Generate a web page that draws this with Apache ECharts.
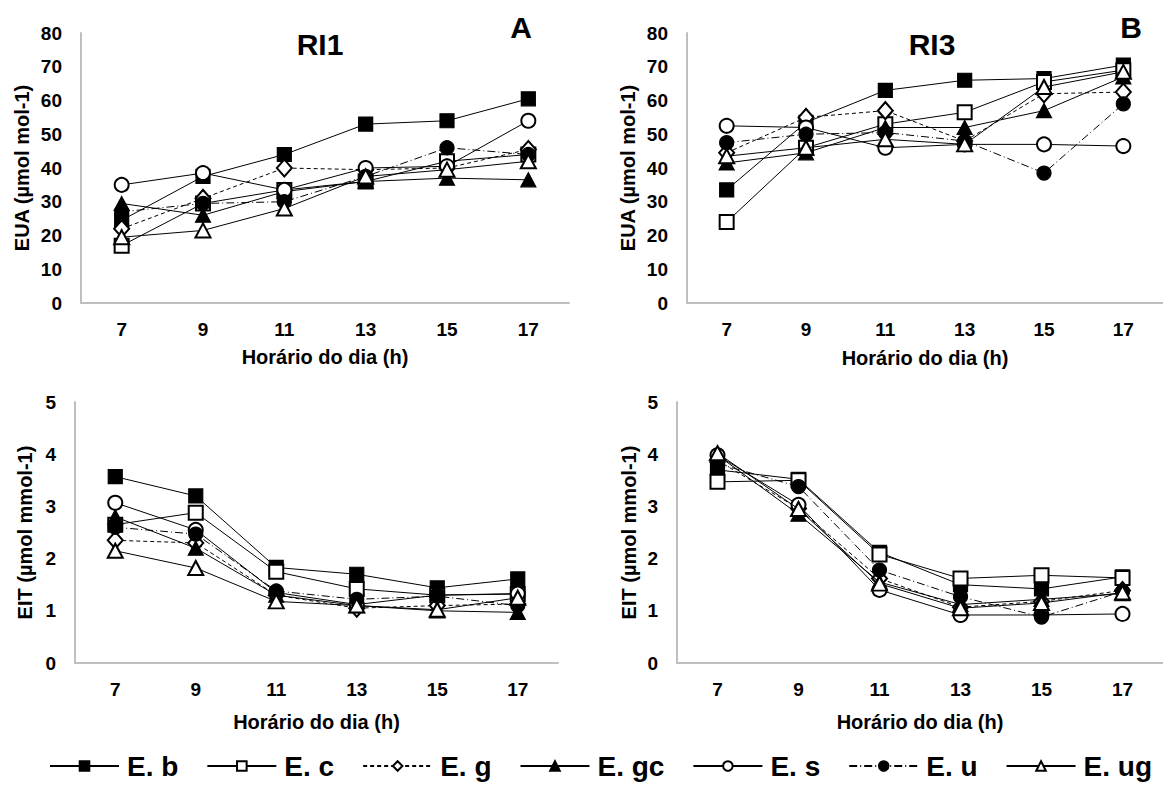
<!DOCTYPE html>
<html><head><meta charset="utf-8">
<script src="https://cdn.jsdelivr.net/npm/echarts@6/dist/echarts.min.js"></script>
<style>html,body{margin:0;padding:0;background:#fff}#c{width:1163px;height:785px}</style>
</head><body><div id="c"></div>
<script>
// ---- data ----
const hours = ['7', '9', '11', '13', '15', '17'];
const species = ['E. b', 'E. c', 'E. g', 'E. gc', 'E. s', 'E. u', 'E. ug'];
const panelTitles = ['RI1', 'RI3'];
const panelLetters = ['A', 'B'];
const euaTitle = 'EUA (µmol mol-1)';
const eitTitle = 'EIT (µmol mmol-1)';
const xTitle = 'Horário do dia (h)';

// rows follow species order
const euaRI1 = [
  [24.5, 37.5, 44, 53, 54, 60.5],
  [17, 29.5, 33.5, 36, 42, 44],
  [22, 31, 40, 39.5, 40, 45.5],
  [29.5, 26, 33, 36, 37, 36.5],
  [35, 38.5, 33.5, 40, 40.5, 54],
  [27, 29.5, 30, 37.5, 46, 44],
  [19.5, 21.5, 28, 37.5, 39.5, 42]
];
const euaRI3 = [
  [33.5, 53.5, 63, 66, 66.5, 70.5],
  [24, 46, 53, 56.5, 65.5, 69],
  [44.5, 55, 57, 48, 62, 62.5],
  [41.5, 44.5, 52, 52, 57, 67],
  [52.5, 52, 46, 47, 47, 46.5],
  [47.5, 50, 50.5, 48, 38.5, 59],
  [43.5, 46, 48.5, 47, 64, 68.5]
];
const eitRI1 = [
  [3.57, 3.2, 1.83, 1.7, 1.44, 1.61],
  [2.65, 2.88, 1.75, 1.42, 1.3, 1.32],
  [2.35, 2.3, 1.3, 1.05, 1.1, 1.13],
  [2.8, 2.2, 1.3, 1.1, 1.0, 0.97],
  [3.07, 2.55, 1.35, 1.12, 1.3, 1.33],
  [2.6, 2.47, 1.38, 1.22, 1.28, 1.1],
  [2.15, 1.82, 1.18, 1.1, 1.02, 1.25]
];
const eitRI3 = [
  [3.7, 3.52, 2.12, 1.5, 1.42, 1.65],
  [3.47, 3.5, 2.08, 1.62, 1.68, 1.63],
  [3.88, 2.96, 1.62, 1.07, 1.18, 1.39],
  [3.98, 2.85, 1.55, 1.12, 1.22, 1.33],
  [3.98, 3.03, 1.4, 0.92, 0.92, 0.94],
  [3.82, 3.38, 1.78, 1.27, 0.88, 1.37],
  [4.02, 2.95, 1.52, 1.05, 1.15, 1.35]
];

// ---- styles ----
const FONT = "'Liberation Sans', Arial, sans-serif";
const symbols = ['rect', 'emptyRect', 'emptyDiamond', 'triangle', 'emptyCircle', 'circle', 'emptyTriangle'];
const symbolSizes = [14, 14, [15, 17], [15, 14], 14, 14, [15, 14]];
const lineTypes = ['solid', 'solid', [4, 3], 'solid', 'solid', [8, 3, 1, 3], 'solid'];

const panels = [
  { data: euaRI1, grid: { left: 81, top: 33, width: 488, height: 270 }, max: 80, interval: 10, yName: euaTitle, yGap: 49, xGap: 44 },
  { data: euaRI3, grid: { left: 687, top: 33, width: 481, height: 270 }, max: 80, interval: 10, yName: euaTitle, yGap: 49, xGap: 45 },
  { data: eitRI1, grid: { left: 75, top: 402, width: 483, height: 261 }, max: 5, interval: 1, yName: eitTitle, yGap: 40, xGap: 49 },
  { data: eitRI3, grid: { left: 677, top: 402, width: 499, height: 261 }, max: 5, interval: 1, yName: eitTitle, yGap: 38, xGap: 49 }
];

const axisLine = { show: true, lineStyle: { color: '#bfbfbf', width: 2 } };
const tickFont = { fontFamily: FONT, fontSize: 19, fontWeight: 'bold', color: '#000' };
const nameFont = { fontFamily: FONT, fontSize: 20, fontWeight: 'bold', color: '#000' };

const grid = [], xAxis = [], yAxis = [], series = [];
panels.forEach((p, i) => {
  grid.push(Object.assign({ containLabel: false }, p.grid));
  xAxis.push({
    type: 'category', gridIndex: i, data: hours, boundaryGap: true,
    axisLine: axisLine, axisTick: { show: false },
    axisLabel: Object.assign({ margin: 17, interval: 0 }, tickFont),
    splitLine: { show: false },
    name: xTitle, nameLocation: 'middle', nameGap: p.xGap, nameTextStyle: nameFont
  });
  yAxis.push({
    type: 'value', gridIndex: i, min: 0, max: p.max, interval: p.interval,
    axisLine: axisLine, axisTick: { show: false },
    axisLabel: Object.assign({ margin: 19 }, tickFont),
    splitLine: { show: false },
    name: p.yName, nameLocation: 'middle', nameRotate: 90, nameGap: p.yGap, nameTextStyle: nameFont
  });
  species.forEach((sp, s) => {
    series.push({
      name: sp, type: 'line', xAxisIndex: i, yAxisIndex: i,
      data: p.data[s],
      symbol: symbols[s], symbolSize: symbolSizes[s],
      lineStyle: { color: '#000', width: 1, type: lineTypes[s] },
      itemStyle: { color: '#000', borderColor: '#000', borderWidth: 1.2 },
      emphasis: { disabled: true },
      z: 2 + s
    });
  });
});

const titleStyle = { fontFamily: FONT, fontSize: 30, fontWeight: 'bold', color: '#000' };
const title = [
  { text: panelTitles[0], left: 320, top: 44 },
  { text: panelLetters[0], left: 521, top: 27 },
  { text: panelTitles[1], left: 932, top: 44 },
  { text: panelLetters[1], left: 1131, top: 27 }
].map(t => Object.assign(t, { textAlign: 'center', textVerticalAlign: 'middle', padding: 0, textStyle: titleStyle }));

const chart = echarts.init(document.getElementById('c'), null, { renderer: 'svg' });
chart.setOption({
  animation: false,
  backgroundColor: '#fff',
  title: title,
  grid: grid, xAxis: xAxis, yAxis: yAxis, series: series,
  legend: {
    data: species, left: 49, top: 752, orient: 'horizontal',
    itemWidth: 69, itemHeight: 12, itemGap: 28, padding: 0,
    textStyle: { fontFamily: FONT, fontSize: 28, lineHeight: 28, fontWeight: 'bold', color: '#000', padding: [0, 0, 0, 3] }
  }
});
</script></body></html>
